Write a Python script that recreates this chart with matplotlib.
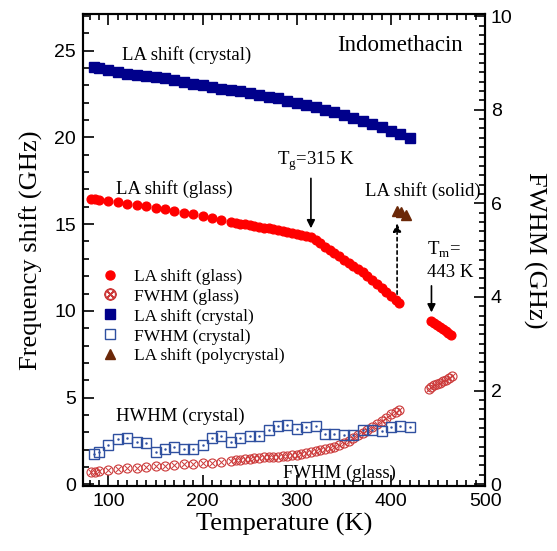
import matplotlib
matplotlib.use("Agg")
import matplotlib.pyplot as plt
from matplotlib.lines import Line2D
from matplotlib.ticker import MultipleLocator

plt.rcParams["font.family"] = ["Liberation Serif", "DejaVu Serif"]
plt.rcParams["mathtext.fontset"] = "custom"
plt.rcParams["mathtext.rm"] = "Liberation Serif"

# LA shift, glass (GHz)
t_glass = [82, 86, 90, 100, 110, 120, 130, 140, 150, 160, 170, 180, 190, 200, 210, 220,
           230, 235, 240, 245, 250, 255, 260, 265, 270, 275, 280, 285, 290, 295, 300, 305,
           310, 315, 320, 325, 330, 335, 340, 345, 350, 355, 360, 365, 370, 375, 380, 385,
           390, 395, 400, 405, 408]
la_glass = [16.45, 16.43, 16.40, 16.32, 16.25, 16.19, 16.12, 16.03, 15.95, 15.85, 15.76,
            15.66, 15.57, 15.46, 15.36, 15.24, 15.13, 15.08, 15.03, 14.98, 14.94, 14.89,
            14.85, 14.80, 14.76, 14.71, 14.66, 14.61, 14.55, 14.49, 14.44, 14.38, 14.32,
            14.25, 14.07, 13.89, 13.70, 13.52, 13.33, 13.14, 12.96, 12.78, 12.60, 12.42,
            12.22, 11.99, 11.75, 11.53, 11.30, 11.08, 10.85, 10.60, 10.48]
# FWHM, glass (GHz, right axis)
fwhm_glass = [0.26, 0.26, 0.27, 0.30, 0.32, 0.34, 0.35, 0.37, 0.38, 0.39, 0.40, 0.42,
              0.43, 0.45, 0.46, 0.48, 0.50, 0.51, 0.52, 0.53, 0.54, 0.55, 0.56, 0.57,
              0.58, 0.59, 0.59, 0.60, 0.61, 0.62, 0.63, 0.65, 0.66, 0.68, 0.70, 0.72,
              0.74, 0.77, 0.80, 0.84, 0.88, 0.93, 0.99, 1.04, 1.10, 1.16, 1.22, 1.28,
              1.35, 1.42, 1.49, 1.55, 1.58]

# liquid above Tm
t_melt = [443, 446, 449, 452, 455, 458, 461, 464]
la_melt = [9.40, 9.28, 9.17, 9.05, 8.95, 8.83, 8.72, 8.60]
t_melt_w = [440, 443, 446, 449, 452, 455, 458, 462, 465]
fwhm_melt = [2.04, 2.08, 2.11, 2.14, 2.17, 2.20, 2.23, 2.27, 2.31]

# crystal
t_cryst = [85, 90, 100, 110, 120, 130, 140, 150, 160, 170, 180, 190, 200, 210, 220, 230,
           240, 250, 260, 270, 280, 290, 300, 310, 320, 330, 340, 350, 360, 370, 380, 390,
           400, 410, 420]
la_cryst = [24.05, 24.00, 23.88, 23.76, 23.65, 23.58, 23.54, 23.48, 23.40, 23.30, 23.20,
            23.10, 23.00, 22.91, 22.82, 22.74, 22.66, 22.57, 22.47, 22.36, 22.25, 22.13,
            22.00, 21.89, 21.76, 21.60, 21.44, 21.28, 21.12, 20.95, 20.77, 20.59, 20.40,
            20.20, 19.98]
fwhm_cryst = [0.64, 0.68, 0.84, 0.96, 0.99, 0.91, 0.87, 0.69, 0.74, 0.80, 0.74, 0.74,
              0.84, 0.98, 1.03, 0.91, 0.98, 1.02, 1.03, 1.16, 1.24, 1.27, 1.17, 1.22,
              1.25, 1.07, 1.07, 1.05, 1.05, 1.16, 1.16, 1.14, 1.23, 1.24, 1.21]

# polycrystal
t_poly = [406, 411, 416]
la_poly = [15.75, 15.68, 15.55]

red = "#ff0000"
red_open = "#cc3a3a"
navy = "#00008b"
blue_open = "#2f50a0"
brown = "#6b2808"

fig = plt.figure(figsize=(5.57, 5.51), dpi=100)
ax = fig.add_axes([0.149, 0.118, 0.722, 0.856])
ax2 = ax.twinx()

ax.plot(t_cryst, la_cryst, "s", color=navy, ms=7.2, mec=navy)
ax.plot(t_glass, la_glass, "o", color=red, ms=6.3, mec=red)
ax.plot(t_melt, la_melt, "o", color=red, ms=6.3, mec=red)
ax.plot(t_poly, la_poly, "^", color=brown, ms=7, mec=brown)

ax2.plot(t_glass, fwhm_glass, "o", mfc="none", mec=red_open, ms=6.5, mew=0.8)
ax2.plot(t_glass, fwhm_glass, "x", color=red_open, ms=4, mew=0.7)
ax2.plot(t_melt_w, fwhm_melt, "o", mfc="none", mec=red_open, ms=6.5, mew=0.8)
ax2.plot(t_melt_w, fwhm_melt, "x", color=red_open, ms=4, mew=0.7)
ax2.plot(t_cryst, fwhm_cryst, "s", mfc="none", mec=blue_open, ms=7.2, mew=1.0)
ax2.plot(t_cryst, fwhm_cryst, ".", color=blue_open, ms=1.5)

ax.set_xlim(73, 500)
ax.set_ylim(-0.1, 27.1)
ax2.set_ylim(-0.04, 10.04)

ax.xaxis.set_major_locator(MultipleLocator(100))
ax.xaxis.set_minor_locator(MultipleLocator(10))
ax.yaxis.set_major_locator(MultipleLocator(5))
ax.yaxis.set_minor_locator(MultipleLocator(1))
ax2.yaxis.set_major_locator(MultipleLocator(2))
ax2.yaxis.set_minor_locator(MultipleLocator(0.2))

ax.tick_params(which="both", direction="in", top=True, width=1.2)
ax.tick_params(which="major", length=8, labelsize=14, pad=5)
ax.tick_params(which="minor", length=4)
ax2.tick_params(which="both", direction="in", width=1.2)
ax2.tick_params(which="major", length=8, labelsize=14, pad=4)
ax2.tick_params(which="minor", length=4)
for a in (ax, ax2):
    for lab in a.get_xticklabels() + a.get_yticklabels():
        lab.set_family("Liberation Sans")
    for sp in a.spines.values():
        sp.set_linewidth(1.5)

ax.set_xlabel("Temperature (K)", fontsize=19, labelpad=2)
ax.set_ylabel("Frequency shift (GHz)", fontsize=19, labelpad=8)
ax2.set_ylabel("FWHM (GHz)", fontsize=19, rotation=270, labelpad=24)

ax.text(410, 25.3, "Indomethacin", fontsize=16.5, ha="center", va="center")
ax.text(114, 24.75, "LA shift (crystal)", fontsize=13.5, va="center")
ax.text(108, 17.05, "LA shift (glass)", fontsize=13.5, va="center")
ax.text(372, 16.9, "LA shift (solid)", fontsize=13.5, va="center")
ax.text(108, 3.9, "HWHM (crystal)", fontsize=13.5, va="center")
ax.text(285, 0.65, "FWHM (glass)", fontsize=13.5, va="center")
ax.text(320, 18.6, r"T$_\mathrm{g}$=315 K", fontsize=13.5, ha="center", va="center")
ax.text(438, 13.5, r"T$_\mathrm{m}$=", fontsize=13.5, va="center")
ax.text(438, 12.2, "443 K", fontsize=13.5, va="center")

ax.annotate("", xy=(315, 14.6), xytext=(315, 17.8),
            arrowprops=dict(arrowstyle="-|>", color="black", lw=1.2, mutation_scale=12))
ax.annotate("", xy=(443, 9.75), xytext=(443, 11.6),
            arrowprops=dict(arrowstyle="-|>", color="black", lw=1.2, mutation_scale=12))
ax.annotate("", xy=(406.5, 15.2), xytext=(406.5, 10.8),
            arrowprops=dict(arrowstyle="-|>", color="black", lw=1.2, ls=(0, (2, 2)),
                            mutation_scale=12))

handles = [
    Line2D([], [], ls="none", marker="o", color=red, ms=6.5),
    Line2D([], [], ls="none", marker=r"$\otimes$", color=red_open, ms=8),
    Line2D([], [], ls="none", marker="s", color=navy, ms=7),
    Line2D([], [], ls="none", marker="s", mfc="none", mec=blue_open, ms=7),
    Line2D([], [], ls="none", marker="^", color=brown, ms=7),
]
labels = ["LA shift (glass)", "FWHM (glass)", "LA shift (crystal)", "FWHM (crystal)",
          "LA shift (polycrystal)"]
ax.legend(handles, labels, loc="upper left", bbox_to_anchor=(0.01, 0.487), frameon=False,
          fontsize=12.5, handlelength=1.2, handletextpad=0.8, labelspacing=0.22,
          borderpad=0.2)

fig.savefig("out.png", dpi=100)
